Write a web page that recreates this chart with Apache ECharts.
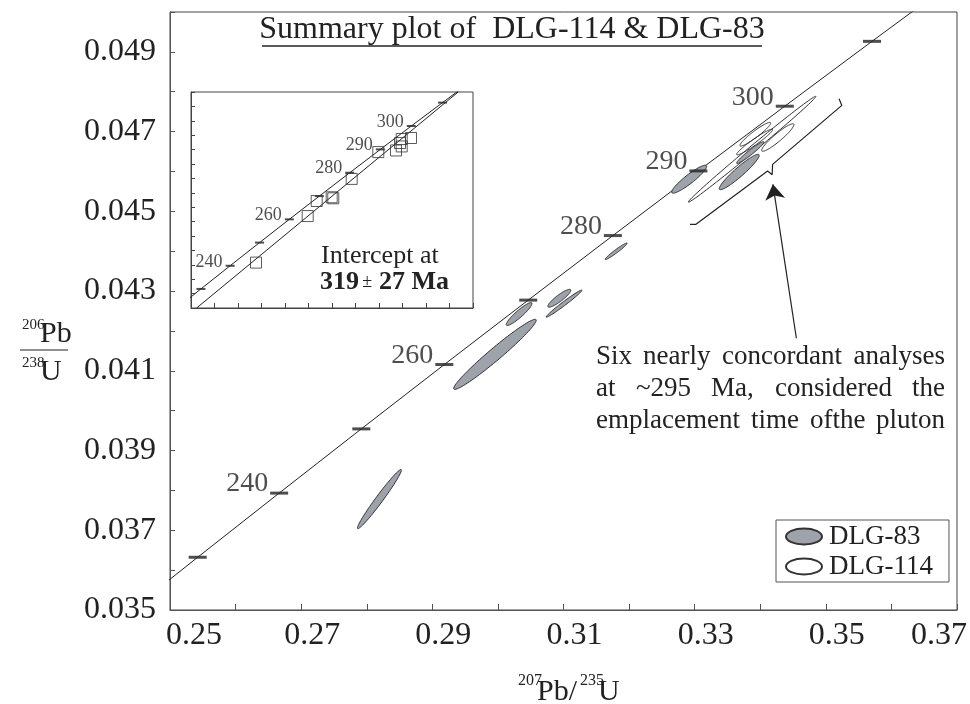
<!DOCTYPE html>
<html>
<head>
<meta charset="utf-8">
<script src="https://cdn.jsdelivr.net/npm/echarts@6/dist/echarts.min.js"></script>
<style>
  html, body { margin: 0; padding: 0; background: #fff; }
  #chart { width: 970px; height: 704px; }
</style>
</head>
<body>
<div id="chart"></div>
<script>
// concordia points (age in Ma, 207Pb/235U, 206Pb/238U)
var concordiaAge = [220, 230, 240, 250, 260, 270, 280, 290, 300, 310, 320];
var concordiaX = [0.24193, 0.25422, 0.26664, 0.27917, 0.29183, 0.30462, 0.31753, 0.33057, 0.34374, 0.35704, 0.37047];
var concordiaY = [0.034717, 0.036323, 0.037932, 0.039543, 0.041157, 0.042773, 0.044392, 0.046014, 0.047637, 0.049264, 0.050893];
var tickAges = [230, 240, 250, 260, 270, 280, 290, 300, 310];
var labeledAges = [240, 260, 280, 290, 300];

// error ellipses: left point x, y, right point x, y, vertical half thickness
var dlg83 = [
  [0.27858, 0.037055, 0.28528, 0.038509, 0.00015],
  [0.29325, 0.040556, 0.30584, 0.042268, 0.00020],
  [0.30127, 0.042160, 0.30519, 0.042687, 0.000113],
  [0.30762, 0.042619, 0.31112, 0.043020, 0.00010],
  [0.30736, 0.042351, 0.31280, 0.043020, 0.00006],
  [0.31635, 0.043797, 0.31970, 0.044198, 0.00005],
  [0.32650, 0.045484, 0.33183, 0.046128, 0.000138],
  [0.33375, 0.045569, 0.33984, 0.046404, 0.00015],
  [0.33640, 0.046211, 0.34056, 0.046737, 0.000075]
];
var dlg114 = [
  [0.32903, 0.045233, 0.34848, 0.047882, 0.00010],
  [0.33690, 0.046654, 0.34158, 0.047213, 0.00010],
  [0.34021, 0.046529, 0.34513, 0.047173, 0.000125],
  [0.33640, 0.046429, 0.34188, 0.047048, 0.00009]
];

// inset: analyses as squares and the regression line
var insetPoints = [
  [0.27766, 0.038154], [0.29966, 0.041384], [0.30349, 0.042430],
  [0.30987, 0.042689], [0.31055, 0.042619], [0.31838, 0.043965],
  [0.32970, 0.045828], [0.33723, 0.045940], [0.33966, 0.046735],
  [0.33894, 0.046456], [0.33966, 0.046219], [0.34362, 0.046805]
];
var discordia = [[0.2524, 0.0350], [0.3637, 0.0500]];

// annotation bracket and arrow (data units)
var bracket = [
  [0.35202, 0.047825], [0.35244, 0.047657], [0.34188, 0.046178],
  [0.34182, 0.045920], [0.34112, 0.046010], [0.33020, 0.044674], [0.32929, 0.044674]
];
var arrowLine = [[0.34551, 0.041817], [0.34193, 0.045677]];

var serif = "'Liberation Serif', 'Times New Roman', serif";
var ink = '#222';

function pointOf(age) {
  var i = concordiaAge.indexOf(age);
  return [concordiaX[i], concordiaY[i]];
}
var concordiaLine = concordiaAge.map(function (a) { return pointOf(a); });
var tickData = tickAges.map(function (a) {
  return { value: pointOf(a).concat([a]), label: { show: labeledAges.indexOf(a) >= 0 } };
});

function renderEllipse(params, api) {
  var x1 = api.value(0), y1 = api.value(1), x2 = api.value(2), y2 = api.value(3), h = api.value(4);
  var cx = (x1 + x2) / 2, cy = (y1 + y2) / 2, ux = (x2 - x1) / 2, uy = (y2 - y1) / 2;
  var pts = [];
  for (var i = 0; i < 90; i++) {
    var t = i / 90 * Math.PI * 2;
    pts.push(api.coord([cx + ux * Math.cos(t), cy + uy * Math.cos(t) + h * Math.sin(t)]));
  }
  return { type: 'polygon', shape: { points: pts }, style: api.style() };
}

function txt(x, y, s, size, align) {
  return { type: 'text', x: x, y: y, z: 20,
    style: { text: s, fontSize: size, fontFamily: serif, fill: ink, align: align || 'left', verticalAlign: 'middle' } };
}

var chart = echarts.init(document.getElementById('chart'));

var xLabelRich = {
  m: { fontSize: 32, fontFamily: serif, color: ink, padding: [0, 0, 0, 22] },
  a: { fontSize: 32, fontFamily: serif, color: ink, padding: [0, 0, 0, 48] },
  z: { fontSize: 32, fontFamily: serif, color: ink, padding: [0, 36, 0, 0] }
};

var ellipseIcon = 'path://M0,8A18,8,0,1,1,36,8A18,8,0,1,1,0,8Z';

var option = {
  animation: false,
  backgroundColor: '#fff',
  grid: [
    { left: 170, right: 11, top: 12, bottom: 94, show: true, borderColor: '#444', borderWidth: 1 },
    { left: 191, top: 92, width: 282, height: 216, show: true, borderColor: '#444', borderWidth: 1, backgroundColor: '#fff' }
  ],
  xAxis: [
    {
      type: 'value', gridIndex: 0, min: 0.25, max: 0.37, interval: 0.01,
      axisLine: { lineStyle: { color: '#555' } },
      axisTick: { inside: true, length: 6, lineStyle: { color: '#555' } },
      splitLine: { show: false },
      axisLabel: {
        margin: 10, rich: xLabelRich,
        formatter: function (v) {
          var k = Math.round(v * 100);
          if (k % 2 !== 1) return '';
          var s = v.toFixed(2);
          if (k === 25) return '{a|' + s + '}';
          if (k === 37) return '{z|' + s + '}';
          return '{m|' + s + '}';
        }
      }
    },
    {
      type: 'value', gridIndex: 1, min: 0.25, max: 0.37, interval: 0.01,
      axisLine: { lineStyle: { color: '#444' } },
      axisTick: { inside: true, length: 5, lineStyle: { color: '#444' } },
      splitLine: { show: false }, axisLabel: { show: false }
    }
  ],
  yAxis: [
    {
      type: 'value', gridIndex: 0, min: 0.035, max: 0.05, interval: 0.001,
      axisLine: { show: true, lineStyle: { color: '#555' } },
      axisTick: { show: true, inside: true, length: 5, lineStyle: { color: '#555' } },
      splitLine: { show: false },
      axisLabel: {
        margin: 14, fontSize: 32, fontFamily: serif, color: ink,
        formatter: function (v) {
          var k = Math.round(v * 1000);
          return k % 2 === 1 ? v.toFixed(3) : '';
        }
      }
    },
    {
      type: 'value', gridIndex: 1, min: 0.035, max: 0.05, interval: 0.001,
      axisLine: { show: true, lineStyle: { color: '#444' } },
      axisTick: { show: true, inside: true, length: 4, lineStyle: { color: '#444' } },
      splitLine: { show: false }, axisLabel: { show: false }
    }
  ],
  legend: {
    left: 776, top: 520, orient: 'vertical',
    data: [
      { name: 'DLG-83', icon: ellipseIcon },
      { name: 'DLG-114', icon: ellipseIcon }
    ],
    itemWidth: 36, itemHeight: 16, itemGap: 3,
    padding: [3, 16, 2, 9],
    borderColor: '#555', borderWidth: 1, backgroundColor: '#fff',
    textStyle: { fontSize: 27, fontFamily: serif, color: ink, lineHeight: 24, padding: [0, 0, 0, 2] }
  },
  series: [
    {
      type: 'line', xAxisIndex: 0, yAxisIndex: 0, data: concordiaLine,
      symbol: 'none', lineStyle: { color: ink, width: 1 }, clip: true, z: 2
    },
    {
      type: 'custom', name: 'DLG-114', xAxisIndex: 0, yAxisIndex: 0,
      renderItem: renderEllipse, data: dlg114,
      itemStyle: { color: 'rgba(255,255,255,0)', borderColor: '#333', borderWidth: 1 }, z: 3
    },
    {
      type: 'custom', name: 'DLG-83', xAxisIndex: 0, yAxisIndex: 0,
      renderItem: renderEllipse, data: dlg83,
      itemStyle: { color: '#9ea2aa', borderColor: '#333', borderWidth: 1 }, z: 4
    },
    {
      type: 'scatter', xAxisIndex: 0, yAxisIndex: 0, data: tickData,
      symbol: 'rect', symbolSize: [18, 3], itemStyle: { color: ink }, clip: true, z: 5,
      label: {
        position: 'left', distance: 2, offset: [0, -9],
        fontSize: 28, fontFamily: serif, color: ink,
        formatter: function (p) { return p.value[2]; }
      }
    },
    {
      type: 'line', xAxisIndex: 0, yAxisIndex: 0, data: bracket,
      symbol: 'none', lineStyle: { color: ink, width: 1.2 }, z: 5
    },
    {
      type: 'lines', coordinateSystem: 'cartesian2d', xAxisIndex: 0, yAxisIndex: 0,
      data: [{ coords: arrowLine }],
      symbol: ['none', 'arrow'], symbolSize: 15,
      lineStyle: { color: ink, width: 1.2, opacity: 1 }, z: 5
    },
    {
      type: 'line', xAxisIndex: 1, yAxisIndex: 1, data: concordiaLine,
      symbol: 'none', lineStyle: { color: ink, width: 1 }, clip: true, z: 12
    },
    {
      type: 'line', xAxisIndex: 1, yAxisIndex: 1, data: discordia,
      symbol: 'none', lineStyle: { color: ink, width: 1 }, clip: true, z: 12
    },
    {
      type: 'scatter', xAxisIndex: 1, yAxisIndex: 1, data: tickData,
      symbol: 'rect', symbolSize: [9, 2], itemStyle: { color: ink }, clip: true, z: 13,
      label: {
        position: 'left', distance: 3, offset: [0, -4],
        fontSize: 18, fontFamily: serif, color: ink,
        formatter: function (p) { return p.value[2]; }
      }
    },
    {
      type: 'scatter', xAxisIndex: 1, yAxisIndex: 1, data: insetPoints,
      symbol: 'rect', symbolSize: 11,
      itemStyle: { color: 'rgba(255,255,255,0)', borderColor: '#333', borderWidth: 1 }, z: 14
    }
  ],
  graphic: [
    txt(512, 30, 'Summary plot of  DLG-114 & DLG-83', 32, 'center'),
    { type: 'line', shape: { x1: 262, y1: 46, x2: 762, y2: 46 }, style: { stroke: ink, lineWidth: 1.5 }, z: 20 },

    txt(321, 256, 'Intercept at', 26),
    { type: 'text', x: 320, y: 282, z: 20,
      style: {
        text: '{b|319} {p|±}  {b|27 Ma}', verticalAlign: 'middle',
        rich: {
          b: { fontSize: 26, fontWeight: 'bold', fontFamily: serif, fill: ink },
          p: { fontSize: 18, fontFamily: serif, fill: ink }
        }
      } },

    txt(596, 357, 'Six', 27),
    txt(643, 357, 'nearly', 27),
    txt(722, 357, 'concordant', 27),
    txt(945, 357, 'analyses', 27, 'right'),
    txt(596, 389, 'at', 27),
    txt(636, 389, '~295', 27),
    txt(711, 389, 'Ma,', 27),
    txt(775, 389, 'considered', 27),
    txt(945, 389, 'the', 27, 'right'),
    txt(596, 421, 'emplacement', 27),
    txt(751, 421, 'time', 27),
    txt(810, 421, 'ofthe', 27),
    txt(945, 421, 'pluton', 27, 'right'),

    txt(22, 325, '206', 15),
    txt(40, 334, 'Pb', 30),
    { type: 'line', shape: { x1: 20, y1: 350, x2: 68, y2: 350 }, style: { stroke: ink, lineWidth: 1 }, z: 20 },
    txt(22, 363, '238', 15),
    txt(40, 372, 'U', 30),

    txt(518, 681, '207', 16),
    txt(537, 692, 'Pb/', 30),
    txt(580, 681, '235', 16),
    txt(598, 692, 'U', 30)
  ]
};

chart.setOption(option);
</script>
</body>
</html>
